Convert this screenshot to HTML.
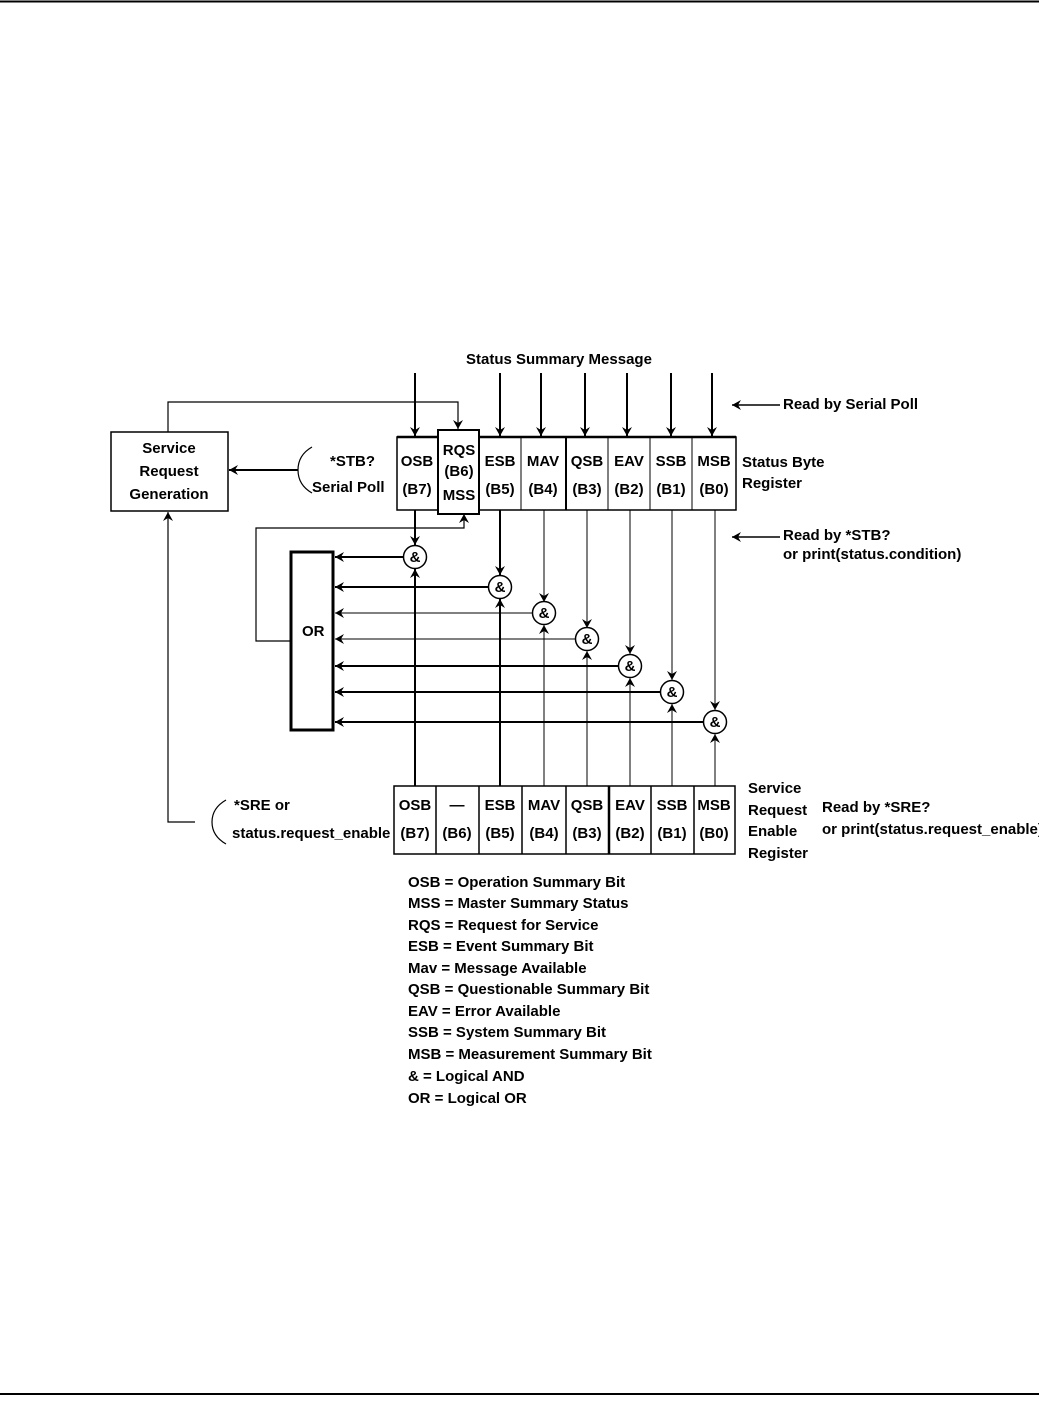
<!DOCTYPE html>
<html><head><style>
body{margin:0;background:#fff;}
svg text{font-family:"Liberation Sans",Arial,sans-serif;font-size:15px;font-weight:bold;fill:#000;}
</style></head><body>
<svg width="1039" height="1399" viewBox="0 0 1039 1399" xmlns="http://www.w3.org/2000/svg">
<defs>
<marker id="a" markerWidth="10" markerHeight="10" refX="9" refY="5" orient="auto" markerUnits="userSpaceOnUse">
<path d="M0,0 L9,5 L0,10 L3,5 z" fill="#000"/></marker>
</defs>
<line x1="0" y1="1.5" x2="1039" y2="1.5" stroke="#000" stroke-width="2"/>
<line x1="0" y1="1394" x2="1039" y2="1394" stroke="#000" stroke-width="2"/>

<text x="466" y="364">Status Summary Message</text>
<g stroke="#000" stroke-width="2" fill="none">
<line x1="415" y1="373" x2="415" y2="436" marker-end="url(#a)"/>
<line x1="500" y1="373" x2="500" y2="436" marker-end="url(#a)"/>
<line x1="541" y1="373" x2="541" y2="436" marker-end="url(#a)"/>
<line x1="585" y1="373" x2="585" y2="436" marker-end="url(#a)"/>
<line x1="627" y1="373" x2="627" y2="436" marker-end="url(#a)"/>
<line x1="671" y1="373" x2="671" y2="436" marker-end="url(#a)"/>
<line x1="712" y1="373" x2="712" y2="436" marker-end="url(#a)"/>
</g>
<line x1="780" y1="405" x2="732" y2="405" stroke="#000" stroke-width="1.5" marker-end="url(#a)"/>
<text x="783" y="409">Read by Serial Poll</text>

<g stroke="#000" fill="none">
<rect x="397" y="437" width="339" height="73" stroke-width="1.5"/>
<line x1="397" y1="437" x2="736" y2="437" stroke-width="2.5"/>
<line x1="521" y1="437" x2="521" y2="510"/>
<line x1="566" y1="437" x2="566" y2="510" stroke-width="2"/>
<line x1="608" y1="437" x2="608" y2="510"/>
<line x1="650" y1="437" x2="650" y2="510"/>
<line x1="692" y1="437" x2="692" y2="510"/>
<rect x="438" y="430" width="41" height="84" fill="#fff" stroke-width="2"/>
</g>
<g text-anchor="middle">
<text x="417" y="466">OSB</text><text x="417" y="494">(B7)</text>
<text x="459" y="455">RQS</text><text x="459" y="476">(B6)</text><text x="459" y="500">MSS</text>
<text x="500" y="466">ESB</text><text x="500" y="494">(B5)</text>
<text x="543" y="466">MAV</text><text x="543" y="494">(B4)</text>
<text x="587" y="466">QSB</text><text x="587" y="494">(B3)</text>
<text x="629" y="466">EAV</text><text x="629" y="494">(B2)</text>
<text x="671" y="466">SSB</text><text x="671" y="494">(B1)</text>
<text x="714" y="466">MSB</text><text x="714" y="494">(B0)</text>
</g>
<text x="742" y="467">Status Byte</text><text x="742" y="488">Register</text>
<line x1="780" y1="537" x2="732" y2="537" stroke="#000" stroke-width="1.5" marker-end="url(#a)"/>
<text x="783" y="540">Read by *STB?</text>
<text x="783" y="559">or print(status.condition)</text>

<rect x="111" y="432" width="117" height="79" fill="none" stroke="#000" stroke-width="1.5"/>
<g text-anchor="middle"><text x="169" y="453">Service</text><text x="169" y="476">Request</text><text x="169" y="499">Generation</text></g>
<polyline points="168,432 168,402 458,402 458,429" fill="none" stroke="#000" stroke-width="1.2" marker-end="url(#a)"/>
<line x1="298" y1="470" x2="229" y2="470" stroke="#000" stroke-width="2" marker-end="url(#a)"/>
<path d="M312,447 Q298,455 298,470 Q298,485 312,493" fill="none" stroke="#000" stroke-width="1.2"/>
<text x="330" y="466">*STB?</text><text x="312" y="492">Serial Poll</text>

<polyline points="291,641 256,641 256,528 464,528 464,514" fill="none" stroke="#000" stroke-width="1.2" marker-end="url(#a)"/>
<rect x="291" y="552" width="42" height="178" fill="#fff" stroke="#000" stroke-width="3"/>
<text x="302" y="636">OR</text>

<g stroke="#000" fill="none">
<line x1="415" y1="510" x2="415" y2="545" stroke-width="2" marker-end="url(#a)"/>
<line x1="500" y1="510" x2="500" y2="575" stroke-width="2" marker-end="url(#a)"/>
<line x1="544" y1="510" x2="544" y2="602" marker-end="url(#a)"/>
<line x1="587" y1="510" x2="587" y2="628" marker-end="url(#a)"/>
<line x1="630" y1="510" x2="630" y2="654" marker-end="url(#a)"/>
<line x1="672" y1="510" x2="672" y2="680" marker-end="url(#a)"/>
<line x1="715" y1="510" x2="715" y2="710" marker-end="url(#a)"/>
<line x1="415" y1="786" x2="415" y2="569" stroke-width="2" marker-end="url(#a)"/>
<line x1="500" y1="786" x2="500" y2="599" stroke-width="2" marker-end="url(#a)"/>
<line x1="544" y1="786" x2="544" y2="625" marker-end="url(#a)"/>
<line x1="587" y1="786" x2="587" y2="651" marker-end="url(#a)"/>
<line x1="630" y1="786" x2="630" y2="678" marker-end="url(#a)"/>
<line x1="672" y1="786" x2="672" y2="704" marker-end="url(#a)"/>
<line x1="715" y1="786" x2="715" y2="734" marker-end="url(#a)"/>
<line x1="403" y1="557" x2="335" y2="557" stroke-width="2" marker-end="url(#a)"/>
<line x1="488" y1="587" x2="335" y2="587" stroke-width="2" marker-end="url(#a)"/>
<line x1="533" y1="613" x2="335" y2="613" marker-end="url(#a)"/>
<line x1="576" y1="639" x2="335" y2="639" marker-end="url(#a)"/>
<line x1="619" y1="666" x2="335" y2="666" stroke-width="2" marker-end="url(#a)"/>
<line x1="661" y1="692" x2="335" y2="692" stroke-width="2" marker-end="url(#a)"/>
<line x1="704" y1="722" x2="335" y2="722" stroke-width="2" marker-end="url(#a)"/>
</g>
<g fill="#fff" stroke="#000" stroke-width="1.5">
<circle cx="415" cy="557" r="11.5"/><circle cx="500" cy="587" r="11.5"/><circle cx="544" cy="613" r="11.5"/>
<circle cx="587" cy="639" r="11.5"/><circle cx="630" cy="666" r="11.5"/><circle cx="672" cy="692" r="11.5"/>
<circle cx="715" cy="722" r="11.5"/>
</g>
<g text-anchor="middle">
<text x="415" y="562">&amp;</text><text x="500" y="592">&amp;</text><text x="544" y="618">&amp;</text>
<text x="587" y="644">&amp;</text><text x="630" y="671">&amp;</text><text x="672" y="697">&amp;</text><text x="715" y="727">&amp;</text>
</g>

<g stroke="#000" fill="none" stroke-width="1.5">
<rect x="394" y="786" width="341" height="68"/>
<line x1="436" y1="786" x2="436" y2="854"/>
<line x1="479" y1="786" x2="479" y2="854"/>
<line x1="522" y1="786" x2="522" y2="854"/>
<line x1="566" y1="786" x2="566" y2="854"/>
<line x1="609" y1="786" x2="609" y2="854" stroke-width="2.5"/>
<line x1="651" y1="786" x2="651" y2="854"/>
<line x1="694" y1="786" x2="694" y2="854"/>
</g>
<g text-anchor="middle">
<text x="415" y="810">OSB</text><text x="415" y="838">(B7)</text>
<text x="457" y="810">—</text><text x="457" y="838">(B6)</text>
<text x="500" y="810">ESB</text><text x="500" y="838">(B5)</text>
<text x="544" y="810">MAV</text><text x="544" y="838">(B4)</text>
<text x="587" y="810">QSB</text><text x="587" y="838">(B3)</text>
<text x="630" y="810">EAV</text><text x="630" y="838">(B2)</text>
<text x="672" y="810">SSB</text><text x="672" y="838">(B1)</text>
<text x="714" y="810">MSB</text><text x="714" y="838">(B0)</text>
</g>
<text x="748" y="793">Service</text><text x="748" y="815">Request</text><text x="748" y="836">Enable</text><text x="748" y="858">Register</text>
<text x="822" y="812">Read by *SRE?</text><text x="822" y="834">or print(status.request_enable)</text>

<polyline points="195,822 168,822 168,512" fill="none" stroke="#000" stroke-width="1.2" marker-end="url(#a)"/>
<path d="M226,800 Q212,808 212,822 Q212,836 226,844" fill="none" stroke="#000" stroke-width="1.2"/>
<text x="234" y="810">*SRE or</text><text x="232" y="838">status.request_enable</text>

<g>
<text x="408" y="887">OSB = Operation Summary Bit</text>
<text x="408" y="908">MSS = Master Summary Status</text>
<text x="408" y="930">RQS = Request for Service</text>
<text x="408" y="951">ESB = Event Summary Bit</text>
<text x="408" y="973">Mav = Message Available</text>
<text x="408" y="994">QSB = Questionable Summary Bit</text>
<text x="408" y="1016">EAV = Error Available</text>
<text x="408" y="1037">SSB = System Summary Bit</text>
<text x="408" y="1059">MSB = Measurement Summary Bit</text>
<text x="408" y="1081">&amp; = Logical AND</text>
<text x="408" y="1103">OR = Logical OR</text>
</g>
</svg>
</body></html>
